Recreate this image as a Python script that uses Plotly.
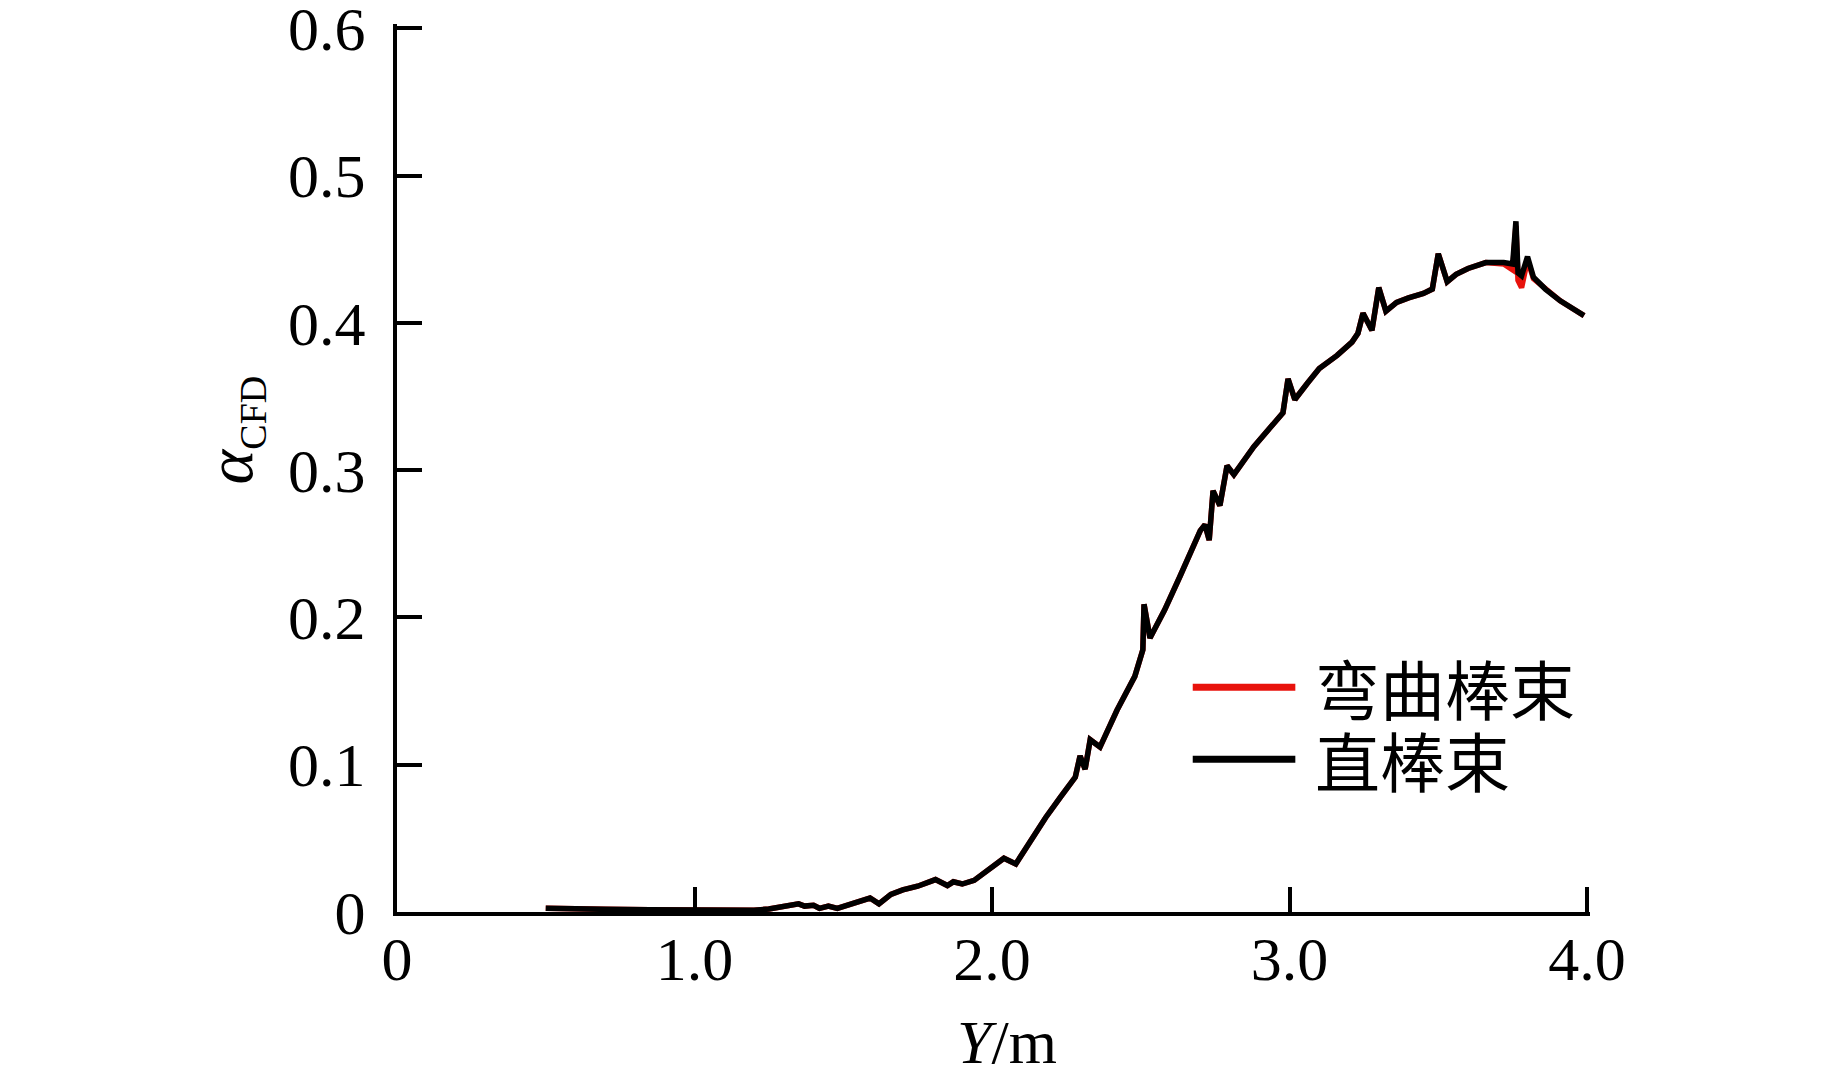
import plotly.graph_objects as go

# ---- data ----
y_pos = [0.50, 0.55, 0.70, 0.85, 1.00, 1.10, 1.15, 1.20, 1.25, 1.30, 1.33, 1.35, 1.37, 1.40,
         1.42, 1.45, 1.48, 1.52, 1.56, 1.59, 1.62, 1.66, 1.70, 1.75, 1.81, 1.85, 1.87, 1.90,
         1.94, 1.99, 2.04, 2.08, 2.13, 2.18, 2.23, 2.28, 2.296, 2.313, 2.33, 2.363, 2.42, 2.48,
         2.507, 2.511, 2.531, 2.58, 2.632, 2.70, 2.716, 2.73, 2.743, 2.766, 2.79, 2.813, 2.88,
         2.95, 2.978, 2.995, 3.018, 3.06, 3.10, 3.16, 3.21, 3.23, 3.247, 3.277, 3.30, 3.324,
         3.36, 3.40, 3.45, 3.48, 3.50, 3.53, 3.56, 3.60, 3.66, 3.72, 3.75, 3.761, 3.768, 3.78,
         3.80, 3.82, 3.86, 3.91, 3.95, 3.99]

alpha_straight = [0.0025, 0.0022, 0.0018, 0.0015, 0.0012, 0.0008, 0.0010, 0.0012, 0.0020, 0.0035,
                  0.0045, 0.0055, 0.0040, 0.0045, 0.0025, 0.0040, 0.0025, 0.0050, 0.0075, 0.0095,
                  0.0055, 0.0120, 0.0150, 0.0175, 0.0220, 0.0180, 0.0205, 0.0190, 0.0215, 0.0285,
                  0.0365, 0.0326, 0.0490, 0.0640, 0.0780, 0.0916, 0.106, 0.097, 0.117, 0.112,
                  0.137, 0.160, 0.178, 0.209, 0.186, 0.205, 0.228, 0.259, 0.263, 0.2525, 0.286,
                  0.276, 0.303, 0.297, 0.316, 0.333, 0.339, 0.362, 0.348, 0.359, 0.369, 0.378,
                  0.387, 0.393, 0.4066, 0.395, 0.424, 0.408, 0.414, 0.417, 0.420, 0.423, 0.447,
                  0.428, 0.433, 0.437, 0.441, 0.441, 0.440, 0.469, 0.434, 0.432, 0.445, 0.431,
                  0.423, 0.415, 0.410, 0.405]

alpha_bent = [0.0025, 0.0022, 0.0018, 0.0015, 0.0012, 0.0008, 0.0010, 0.0012, 0.0020, 0.0035,
              0.0045, 0.0055, 0.0040, 0.0045, 0.0025, 0.0040, 0.0025, 0.0050, 0.0075, 0.0095,
              0.0055, 0.0120, 0.0150, 0.0175, 0.0220, 0.0180, 0.0205, 0.0190, 0.0215, 0.0285,
              0.0365, 0.0326, 0.0490, 0.0640, 0.0780, 0.0916, 0.106, 0.097, 0.117, 0.112,
              0.137, 0.160, 0.178, 0.209, 0.186, 0.205, 0.228, 0.259, 0.263, 0.2525, 0.286,
              0.276, 0.303, 0.297, 0.316, 0.333, 0.339, 0.362, 0.348, 0.359, 0.369, 0.378,
              0.387, 0.393, 0.4066, 0.395, 0.424, 0.408, 0.414, 0.417, 0.420, 0.423, 0.447,
              0.428, 0.433, 0.437, 0.441, 0.440, 0.436, 0.466, 0.429, 0.424, 0.443, 0.430,
              0.423, 0.415, 0.410, 0.405]

series_names = ["弯曲棒束", "直棒束"]
series_colors = ["#e8120c", "#000000"]

x_tickvals = [0, 1, 2, 3, 4]
x_ticktext = ["0", "1.0", "2.0", "3.0", "4.0"]
y_tickvals = [0, 0.1, 0.2, 0.3, 0.4, 0.5, 0.6]
y_ticktext = ["0", "0.1", "0.2", "0.3", "0.4", "0.5", "0.6"]

SERIF = "Liberation Serif, Times New Roman, serif"
CJK = "Noto Sans CJK SC, sans-serif"

fig = go.Figure()
fig.add_trace(go.Scatter(x=y_pos, y=alpha_bent, mode="lines", name=series_names[0],
                         line=dict(color=series_colors[0], width=5.5), showlegend=False))
fig.add_trace(go.Scatter(x=y_pos, y=alpha_straight, mode="lines", name=series_names[1],
                         line=dict(color=series_colors[1], width=5.5), showlegend=False))

axis_common = dict(showline=True, linecolor="black", linewidth=4, ticks="inside",
                   ticklen=25, tickwidth=4, tickcolor="black", showgrid=False,
                   zeroline=False, ticklabeloverflow="allow",
                   tickfont=dict(family=SERIF, size=62, color="black"))

fig.update_xaxes(range=[0, 4.01], tickmode="array", tickvals=x_tickvals,
                 ticktext=x_ticktext, ticklabelstandoff=-10, **axis_common)
fig.update_yaxes(range=[0, 0.603], tickmode="array", tickvals=y_tickvals,
                 ticktext=y_ticktext, ticklabelstandoff=15, **axis_common)

annotations = [
    dict(text="<i>Y</i>/m", xref="paper", yref="paper", x=0.511, y=-0.146,
         xanchor="center", yanchor="middle", showarrow=False,
         font=dict(family=SERIF, size=62, color="black")),
    dict(text="<i>α</i><sub><span style=\"font-size:38px\">CFD</span></sub>",
         xref="paper", yref="paper", x=-0.137, y=0.543,
         xanchor="center", yanchor="middle", textangle=-90, showarrow=False,
         font=dict(family=SERIF, size=66, color="black")),
]
shapes = []
legend_y = [0.2532, 0.1721]
for name, color, ly in zip(series_names, series_colors, legend_y):
    shapes.append(dict(type="line", xref="paper", yref="paper", x0=0.667, x1=0.753,
                       y0=ly, y1=ly, line=dict(color=color, width=7)))
    annotations.append(dict(text=name, xref="paper", yref="paper", x=0.768, y=ly,
                            xanchor="left", yanchor="middle", showarrow=False,
                            font=dict(family=CJK, size=65, color="black")))

# plot area: 0..4.01 spans 1193 px, 0..0.603 spans 888 px (0.6 sits at page y=28)
fig.update_layout(width=1827, height=1071, paper_bgcolor="white", plot_bgcolor="white",
                  margin=dict(l=389, r=245, t=16, b=167, autoexpand=False),
                  annotations=annotations, shapes=shapes)

fig.write_html("out.html")
